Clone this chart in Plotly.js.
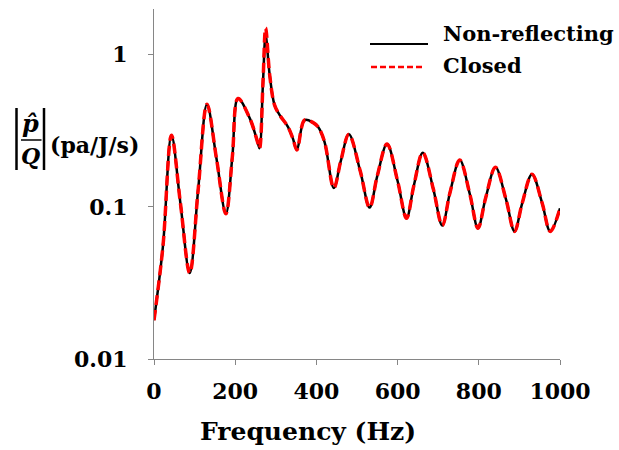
<!DOCTYPE html>
<html>
<head>
<meta charset="utf-8">
<script src="https://cdn.plot.ly/plotly-3.0.1.min.js"></script>
<style>html,body{margin:0;padding:0;background:#fff;}#chart{width:619px;height:450px;}</style>
</head>
<body>
<div id="chart"></div>
<script>
// ---- data ----
const freqHz = [0, 22, 43, 65, 88, 109, 130.5, 154, 177, 193, 207, 236, 256, 260, 268.5, 275, 285, 297, 310, 330, 342, 352, 371, 392, 404, 420, 443, 460, 480, 508, 531, 550, 574, 600, 622, 640, 662, 688, 710, 729, 753, 778, 798, 817, 841, 867, 888, 907, 931, 956, 976, 1000];
const nonReflecting = [0.018, 0.055, 0.296, 0.106, 0.0367, 0.132, 0.473, 0.207, 0.090, 0.214, 0.516, 0.382, 0.262, 0.243, 0.664, 1.34, 0.735, 0.467, 0.40, 0.336, 0.282, 0.237, 0.372, 0.358, 0.336, 0.268, 0.133, 0.20, 0.30, 0.172, 0.099, 0.160, 0.259, 0.148, 0.0843, 0.138, 0.227, 0.131, 0.0755, 0.124, 0.203, 0.121, 0.0725, 0.115, 0.182, 0.112, 0.069, 0.106, 0.164, 0.106, 0.069, 0.098];
const closed = [0.018, 0.055, 0.296, 0.106, 0.0367, 0.132, 0.473, 0.207, 0.090, 0.214, 0.516, 0.382, 0.262, 0.243, 0.664, 1.50, 0.735, 0.467, 0.40, 0.336, 0.282, 0.237, 0.372, 0.358, 0.336, 0.268, 0.133, 0.20, 0.30, 0.172, 0.099, 0.160, 0.259, 0.148, 0.0843, 0.138, 0.227, 0.131, 0.0755, 0.124, 0.203, 0.121, 0.0725, 0.115, 0.182, 0.112, 0.069, 0.106, 0.164, 0.106, 0.069, 0.098];
const xTicks = [0, 200, 400, 600, 800, 1000];
const yTicks = [0.01, 0.1, 1];
const yTickText = ['0.01', '0.1', '1'];
const seriesNames = ['Non-reflecting', 'Closed'];
const xTitle = 'Frequency (Hz)';
const yUnit = '(pa/J/s)';

// ---- layout helpers ----
const W = 619, H = 450;
const M = {l: 154, r: 59, t: 9, b: 91};
const PW = W - M.l - M.r, PH = H - M.t - M.b;
const px = x => (x - M.l) / PW;
const py = y => (H - M.b - y) / PH;
const FONT = 'DejaVu Serif';

const traces = [
  {x: freqHz, y: nonReflecting, type: 'scatter', mode: 'lines', name: seriesNames[0],
   line: {color: '#000000', width: 2.5, shape: 'spline', smoothing: 1}},
  {x: freqHz, y: closed, type: 'scatter', mode: 'lines', name: seriesNames[1],
   line: {color: '#ff0000', width: 3.5, dash: '10px,5px', shape: 'spline', smoothing: 1}}
];

const axisGray = '#868686';
const layout = {
  width: W, height: H,
  margin: M,
  paper_bgcolor: '#ffffff', plot_bgcolor: '#ffffff',
  showlegend: false,
  font: {family: FONT, color: '#000000'},
  xaxis: {
    range: [0, 1000], tickmode: 'array', tickvals: xTicks, ticktext: xTicks.map(String),
    showgrid: false, zeroline: false, showline: true, linecolor: axisGray, linewidth: 1,
    ticks: 'outside', ticklen: 5, tickcolor: axisGray, tickwidth: 1,
    tickfont: {family: FONT, size: 22, color: '#000', weight: 'bold'},
    ticklabelstandoff: 8
  },
  yaxis: {
    type: 'log', range: [-2, Math.log10(2)], tickmode: 'array', tickvals: yTicks, ticktext: yTickText,
    showgrid: false, zeroline: false, showline: true, linecolor: axisGray, linewidth: 1,
    ticks: 'outside', ticklen: 5, tickcolor: axisGray, tickwidth: 1,
    tickfont: {family: FONT, size: 22, color: '#000', weight: 'bold'},
    ticklabelstandoff: 16
  },
  shapes: [
    // |p/Q| bars and fraction line
    {type: 'line', xref: 'paper', yref: 'paper', x0: px(16.5), x1: px(16.5), y0: py(108), y1: py(170), line: {color: '#000', width: 2.5}},
    {type: 'line', xref: 'paper', yref: 'paper', x0: px(44), x1: px(44), y0: py(108), y1: py(170), line: {color: '#000', width: 2.5}},
    {type: 'line', xref: 'paper', yref: 'paper', x0: px(21), x1: px(41.5), y0: py(140), y1: py(140), line: {color: '#000', width: 1.5}},
    // legend samples
    {type: 'line', xref: 'paper', yref: 'paper', x0: px(370), x1: px(428), y0: py(44), y1: py(44), line: {color: '#000', width: 2}},
    {type: 'line', xref: 'paper', yref: 'paper', x0: px(371), x1: px(423), y0: py(67), y1: py(67), line: {color: '#ff0000', width: 2.5, dash: '6px,3px'}}
  ],
  annotations: [
    {xref: 'paper', yref: 'paper', x: px(31), y: py(123), xanchor: 'center', yanchor: 'middle', showarrow: false,
     text: '<i><b>p\u0302</b></i>', font: {family: FONT, size: 24, color: '#000'}},
    {xref: 'paper', yref: 'paper', x: px(31), y: py(156), xanchor: 'center', yanchor: 'middle', showarrow: false,
     text: '<i><b>Q</b></i>', font: {family: FONT, size: 22, color: '#000'}},
    {xref: 'paper', yref: 'paper', x: px(48), y: py(145), xanchor: 'left', yanchor: 'middle', showarrow: false,
     text: '<b>' + yUnit + '</b>', font: {family: FONT, size: 22, color: '#000'}},
    {xref: 'paper', yref: 'paper', x: px(307.5), y: py(431), xanchor: 'center', yanchor: 'middle', showarrow: false,
     text: '<b>' + xTitle + '</b>', font: {family: FONT, size: 25, color: '#000'}},
    {xref: 'paper', yref: 'paper', x: px(441), y: py(33), xanchor: 'left', yanchor: 'middle', showarrow: false,
     text: '<b>' + seriesNames[0] + '</b>', font: {family: FONT, size: 21, color: '#000'}},
    {xref: 'paper', yref: 'paper', x: px(441), y: py(65), xanchor: 'left', yanchor: 'middle', showarrow: false,
     text: '<b>' + seriesNames[1] + '</b>', font: {family: FONT, size: 21, color: '#000'}}
  ]
};

Plotly.newPlot('chart', traces, layout, {staticPlot: true, displayModeBar: false});
</script>
</body>
</html>
